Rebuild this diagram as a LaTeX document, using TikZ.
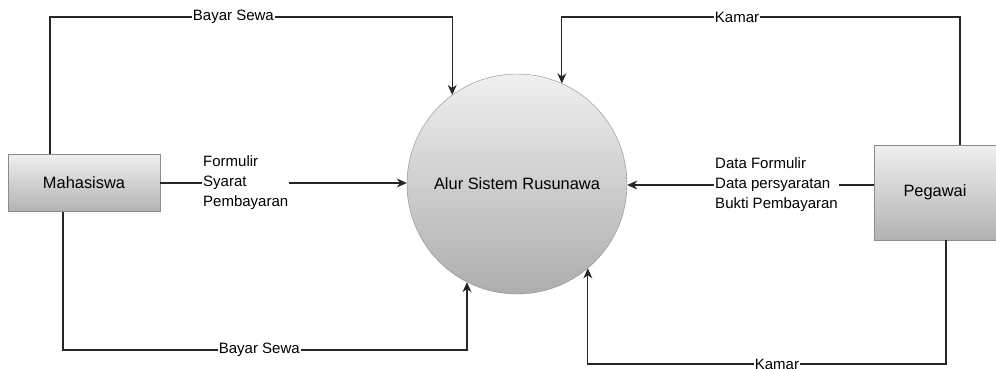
\documentclass[tikz,border=0pt]{standalone}
\usepackage{fontspec}
\setmainfont{Liberation Sans}
\usepackage{tikz}
\usetikzlibrary{positioning}
\usetikzlibrary{calc}
\usetikzlibrary{arrows.meta,shapes}

\begin{document}
\begin{tikzpicture}[x=1pt,y=-1pt,
  entity/.style={draw=black!45,top color=black!6,bottom color=black!30,
    font=\fontsize{16.4}{20}\selectfont},
  process/.style={circle,draw=black!45,top color=black!6,bottom color=black!32,
    minimum size=220pt,font=\fontsize{16.4}{20}\selectfont},
  lbl/.style={inner sep=1pt,font=\fontsize{15}{20}\selectfont},
  onlbl/.style={lbl,fill=white},
  flow/.style={draw=black!85,line width=1.2pt,-{Stealth[length=10pt,width=9pt]}},
  link/.style={draw=black!85,line width=1.2pt}]

\useasboundingbox (0,0) rectangle (996,368);

% entities and process
\node[entity,minimum width=152pt,minimum height=57pt] (mhs) at (84,183) {Mahasiswa};
\node[entity,minimum width=122pt,minimum height=95pt] (peg) at (935,192.5) {Pegawai};
\node[process] (sys) at (517,184) {Alur Sistem Rusunawa};

% data labels
\node[lbl,anchor=west,align=left] (fsp) at (202,183) {Formulir\\Syarat\\Pembayaran};
\node[lbl,anchor=east,align=left] (dfb) at (839,185) {Data Formulir\\Data persyaratan\\Bukti Pembayaran};

% middle flows
\draw[link] (mhs.east) -- (fsp.west);
\draw[flow] (fsp.east) -- (fsp.east -| sys.west);
\draw[link] (peg.west |- dfb.east) -- (dfb.east);
\draw[flow] (dfb.west) -- (dfb.west -| sys.east);

% upper flows
\draw[flow] ([xshift=-34pt]mhs.north) |- node[onlbl,pos=0.728]{Bayar Sewa}
  (sys.126.9 |- 0,17) -- (sys.126.9);
\draw[flow] ([xshift=25pt]peg.north) |- node[onlbl,pos=0.78]{Kamar}
  (sys.66.4 |- 0,17) -- (sys.66.4);

% lower flows
\draw[flow] ([xshift=-21pt]mhs.south) |- node[onlbl,pos=0.743]{Bayar Sewa}
  (sys.243.5 |- 0,350) -- (sys.243.5);
\draw[flow] ([xshift=11pt]peg.south) |- node[onlbl,pos=0.736]{Kamar}
  (sys.310.2 |- 0,364) -- (sys.310.2);

\end{tikzpicture}
\end{document}
